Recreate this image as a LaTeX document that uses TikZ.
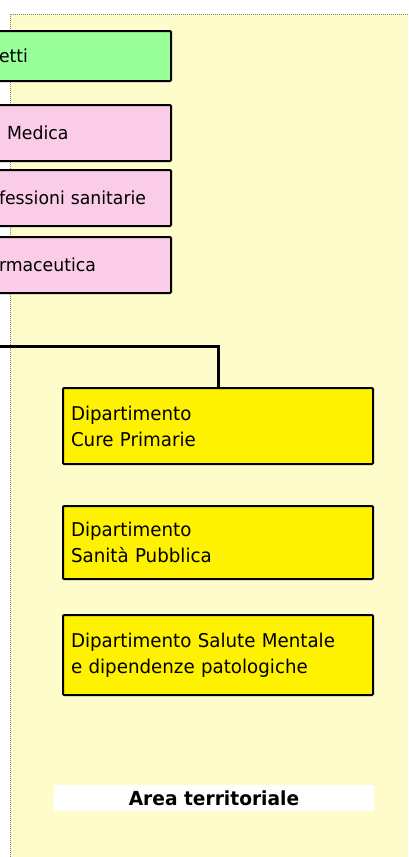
\documentclass[tikz,border=0pt]{standalone}
\usepackage{fontspec}
\setmainfont[FakeStretch=0.96]{DejaVu Sans}
\begin{document}
\begin{tikzpicture}[x=1pt,y=-1pt,
  box/.style={draw=black,line width=2pt,rounded corners=1pt,inner xsep=8pt,inner ysep=0pt,align=left},
  lbox/.style={box,anchor=north east,text width=164pt,font=\fontsize{18}{23}\selectfont},
  dbox/.style={box,fill=yellow,anchor=north west,minimum width=310pt,text width=294pt,font=\fontsize{19}{26}\selectfont},
  conn/.style={draw=black,line width=3pt}]
\clip (0,0) rectangle (408,857);
\fill[white] (0,0) rectangle (408,857);
\fill[yellow!20] (10,14) rectangle (408,857);
\draw[gray,densely dotted,line width=1pt] (10,857) -- (10,14) -- (408,14);
% left boxes
\node[lbox,fill=green!40,minimum height=50pt] (staff) at (172,30) {etti};
\node[lbox,fill=magenta!20,minimum height=56pt] (dirmed) at (172,104) {\hspace*{8pt}Medica};
\node[lbox,fill=magenta!20,minimum height=56pt] (profsan) at (172,169) {fessioni sanitarie};
\node[lbox,fill=magenta!20,minimum height=56pt] (farm) at (172,236) {rmaceutica};
% department boxes
\node[dbox,minimum height=76pt] (cure) at (62,387) {Dipartimento\\Cure Primarie};
\node[dbox,minimum height=73pt] (sanpub) at (62,505) {Dipartimento\\Sanità Pubblica};
\node[dbox,minimum height=80pt] (salment) at (62,614) {Dipartimento Salute Mentale\\e dipendenze patologiche};
% connector
\coordinate (lineleft) at (-5,346);
\draw[conn] (lineleft) -| (cure.north);
% area label
\node[fill=white,minimum width=320pt,minimum height=26pt,inner sep=0pt,font=\bfseries\fontsize{19.4}{24}\selectfont] (area) at (214,798) {Area territoriale};
\end{tikzpicture}
\end{document}
